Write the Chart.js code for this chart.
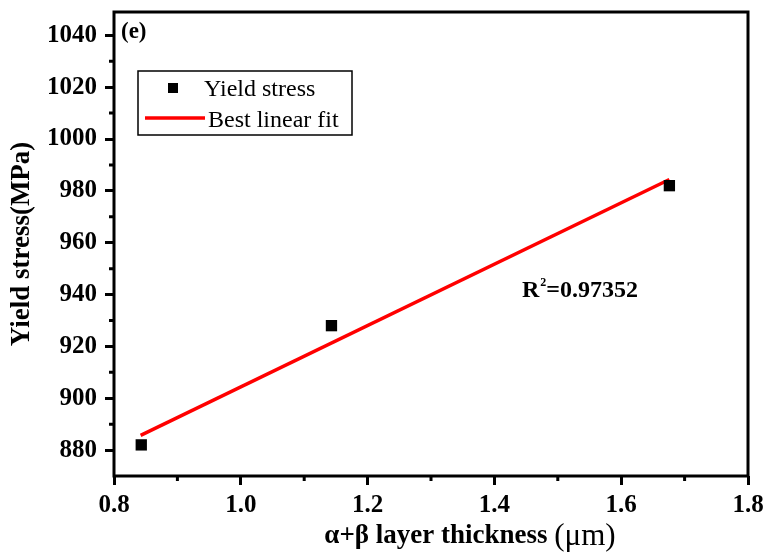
<!DOCTYPE html>
<html>
<head>
<meta charset="utf-8">
<script src="https://cdn.jsdelivr.net/npm/chart.js@4/dist/chart.umd.min.js"></script>
<style>
    html, body { margin: 0; padding: 0; background: #fff; }
    .chart-box { width: 768px; height: 552px; }
</style>
</head>
<body>
<div class="chart-box"><canvas id="chart"></canvas></div>
<script>
// values
const thickness = [0.843, 1.143, 1.676];
const yieldStress = [882, 928, 982];
const fitThickness = [0.842, 1.676];
const fitStress = [885.7, 984.4];
const rSquared = '0.97352';

const xTicks = [0.8, 1.0, 1.2, 1.4, 1.6, 1.8];
const xMinorTicks = [0.9, 1.1, 1.3, 1.5, 1.7];
const yTicks = [880, 900, 920, 940, 960, 980, 1000, 1020, 1040];
const yMinorTicks = [890, 910, 930, 950, 970, 990, 1010, 1030];

const serif = '"Liberation Serif", "Times New Roman", serif';

const framePlugin = {
    id: 'framePlugin',
    afterDraw(chart) {
        const ctx = chart.ctx;
        const area = chart.chartArea;
        const xScale = chart.scales.x;
        const yScale = chart.scales.y;

        ctx.save();
        ctx.strokeStyle = '#000';
        ctx.lineWidth = 3;
        ctx.strokeRect(area.left, area.top, area.right - area.left, area.bottom - area.top);

        // minor ticks
        ctx.beginPath();
        xMinorTicks.forEach(v => {
            const px = xScale.getPixelForValue(v);
            ctx.moveTo(px, area.bottom);
            ctx.lineTo(px, area.bottom + 5);
        });
        yMinorTicks.forEach(v => {
            const py = yScale.getPixelForValue(v);
            ctx.moveTo(area.left, py);
            ctx.lineTo(area.left - 5, py);
        });
        ctx.stroke();

        ctx.fillStyle = '#000';
        ctx.textBaseline = 'alphabetic';

        // panel letter
        ctx.font = `bold 23px ${serif}`;
        ctx.fillText('(e)', area.left + 7, area.top + 26);

        // legend
        const bx = area.left + 24;
        const by = area.top + 59;
        ctx.lineWidth = 1.5;
        ctx.strokeRect(bx, by, 214, 64);
        ctx.fillRect(bx + 30, by + 12, 10, 10);
        ctx.font = `24px ${serif}`;
        ctx.fillText('Yield stress', bx + 66, by + 25);
        ctx.strokeStyle = '#ff0000';
        ctx.lineWidth = 3.5;
        ctx.beginPath();
        ctx.moveTo(bx + 7, by + 47);
        ctx.lineTo(bx + 67, by + 47);
        ctx.stroke();
        ctx.fillText('Best linear fit', bx + 70, by + 56);

        // R squared
        let rx = 522;
        const ry = 297;
        ctx.font = `bold 24px ${serif}`;
        ctx.fillText('R', rx, ry);
        rx += ctx.measureText('R').width + 1;
        ctx.font = `bold 12px ${serif}`;
        ctx.fillText('2', rx, ry - 11);
        rx += ctx.measureText('2').width;
        ctx.font = `bold 24px ${serif}`;
        ctx.fillText('=' + rSquared, rx, ry);

        // x axis title
        const part1 = 'α+β layer thickness ';
        const part2 = '(μm)';
        ctx.font = `bold 27px ${serif}`;
        const w1 = ctx.measureText(part1).width;
        ctx.font = `31px ${serif}`;
        const w2 = ctx.measureText(part2).width;
        const tx = 470 - (w1 + w2) / 2;
        ctx.font = `bold 27px ${serif}`;
        ctx.fillText(part1, tx, 543);
        ctx.font = `31px ${serif}`;
        ctx.fillText(part2, tx + w1, 545);

        ctx.restore();
    }
};

new Chart(document.getElementById('chart'), {
    type: 'scatter',
    data: {
        datasets: [{
            label: 'Yield stress',
            data: thickness.map((x, i) => ({x: x, y: yieldStress[i]})),
            pointStyle: 'rect',
            pointRadius: 8,
            backgroundColor: '#000',
            borderColor: '#000',
            borderWidth: 0,
        }, {
            label: 'Best linear fit',
            data: fitThickness.map((x, i) => ({x: x, y: fitStress[i]})),
            showLine: true,
            borderColor: '#ff0000',
            borderWidth: 3.5,
            pointRadius: 0,
        }]
    },
    options: {
        responsive: true,
        maintainAspectRatio: false,
        animation: false,
        layout: {
            padding: {left: 0, right: 20, top: 12, bottom: 0}
        },
        plugins: {
            legend: {display: false},
            tooltip: {enabled: false}
        },
        scales: {
            x: {
                type: 'linear',
                min: 0.8,
                max: 1.8,
                afterBuildTicks: scale => { scale.ticks = xTicks.map(v => ({value: v})); },
                afterFit: scale => {
                    scale.height = 76;
                    scale.paddingLeft = 0;
                    scale.paddingRight = 0;
                },
                border: {display: false},
                grid: {
                    drawOnChartArea: false,
                    drawTicks: true,
                    tickLength: 9,
                    tickWidth: 3,
                    tickColor: '#000'
                },
                ticks: {
                    color: '#000',
                    padding: 6,
                    maxRotation: 0,
                    font: {family: serif, size: 25, weight: 'bold'},
                    callback: v => v.toFixed(1)
                }
            },
            y: {
                type: 'linear',
                min: 870,
                max: 1049,
                afterBuildTicks: scale => { scale.ticks = yTicks.map(v => ({value: v})); },
                afterFit: scale => {
                    scale.width = 114;
                    scale.paddingTop = 0;
                    scale.paddingBottom = 0;
                },
                border: {display: false},
                grid: {
                    drawOnChartArea: false,
                    drawTicks: true,
                    tickLength: 9,
                    tickWidth: 3,
                    tickColor: '#000'
                },
                ticks: {
                    color: '#000',
                    padding: 8,
                    font: {family: serif, size: 25, weight: 'bold'},
                    callback: v => String(v)
                },
                title: {
                    display: true,
                    text: 'Yield stress(MPa)',
                    color: '#000',
                    padding: {top: 6, bottom: 0},
                    font: {family: serif, size: 27, weight: 'bold'}
                }
            }
        }
    },
    plugins: [framePlugin]
});
</script>
</body>
</html>
